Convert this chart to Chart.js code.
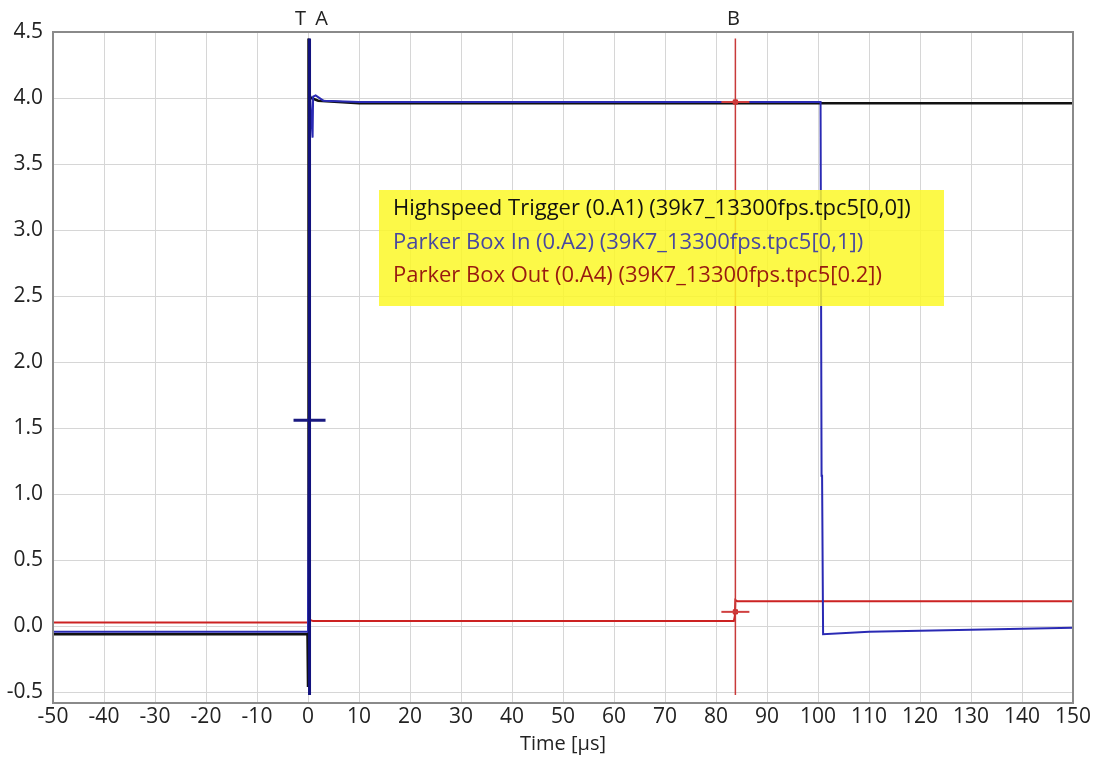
<!DOCTYPE html>
<html>
<head>
<meta charset="utf-8">
<script src="https://cdn.jsdelivr.net/npm/chart.js@4.4.1/dist/chart.umd.min.js"></script>
<style>
  html, body { margin: 0; padding: 0; background: #fff; }
  #wrap { width: 1099px; height: 757px; }
</style>
</head>
<body>
<div id="wrap"><canvas id="scope"></canvas></div>
<script>
// values (time in µs, volts)
const triggerX = [-50, -0.1, 0, 0.05, 0.15, 0.3, 0.6, 2, 10, 50, 100, 120, 150];
const triggerY = [-0.06, -0.06, -0.45, 4.45, 3.85, 4.02, 4.0, 3.98, 3.96, 3.96, 3.96, 3.96, 3.96];

const boxInX = [-50, 0, 0.3, 0.4, 0.5, 0.9, 1.0, 1.5, 3, 10, 50, 100.5, 100.7, 100.8, 101, 110, 150];
const boxInY = [-0.04, -0.04, 2.45, 4.02, 4.02, 3.7, 4.01, 4.02, 3.98, 3.97, 3.97, 3.97, 1.14, 1.14, -0.06, -0.04, -0.01];

const boxOutX = [-50, 0, 0.3, 1, 83.5, 83.7, 83.8, 84.2, 150];
const boxOutY = [0.03, 0.03, 0.05, 0.04, 0.04, 0.08, 0.2, 0.19, 0.19];

const cursorA = 0.3;
const cursorB = 83.8;
const cursorTop = 4.45;
const cursorBottom = -0.52;
const markerA = [1.56];
const markerB = [3.97, 0.11];

const xTicks = [-50, -40, -30, -20, -10, 0, 10, 20, 30, 40, 50, 60, 70, 80, 90, 100, 110, 120, 130, 140, 150];
const yTicks = [-0.5, 0.0, 0.5, 1.0, 1.5, 2.0, 2.5, 3.0, 3.5, 4.0, 4.5];

const legendLines = [
  { text: 'Highspeed Trigger (0.A1) (39k7_13300fps.tpc5[0,0])', color: '#111111' },
  { text: 'Parker Box In (0.A2) (39K7_13300fps.tpc5[0,1])', color: '#4848a0' },
  { text: 'Parker Box Out (0.A4) (39K7_13300fps.tpc5[0.2])', color: '#981a10' }
];

const FONT = "'Open Sans', sans-serif";

function pts(xs, ys) {
  return xs.map((x, i) => ({ x: x, y: ys[i] }));
}

const scopeBits = {
  id: 'scopeBits',
  afterDatasetsDraw(chart) {
    const ctx = chart.ctx;
    const area = chart.chartArea;
    const xs = chart.scales.x;
    ctx.save();
    // yellow legend box
    ctx.fillStyle = 'rgba(252, 248, 40, 0.85)';
    ctx.fillRect(area.left + 326, area.top + 158, 565, 116);
    ctx.font = '22px ' + FONT;
    ctx.textBaseline = 'middle';
    ctx.textAlign = 'left';
    legendLines.forEach((l, i) => {
      ctx.fillStyle = l.color;
      ctx.fillText(l.text, area.left + 340, area.top + 177 + i * 33.5);
    });
    // cursor letters above the frame
    ctx.font = '20px ' + FONT;
    ctx.fillStyle = '#222';
    ctx.textAlign = 'center';
    ctx.textBaseline = 'alphabetic';
    ctx.fillText('T', xs.getPixelForValue(cursorA) - 9, area.top - 7);
    ctx.fillText('A', xs.getPixelForValue(cursorA) + 12, area.top - 7);
    ctx.fillText('B', xs.getPixelForValue(cursorB) - 2, area.top - 7);
    ctx.restore();
  }
};

const ticksFont = { family: FONT, size: 21 };

new Chart(document.getElementById('scope'), {
  type: 'scatter',
  data: {
    datasets: [
      {
        label: 'cursor A',
        data: pts([cursorA, cursorA], [cursorBottom, cursorTop]),
        showLine: true, borderColor: '#12127e', borderWidth: 3, pointRadius: 0, order: 0
      },
      {
        label: 'cursor A marker',
        data: pts([cursorA], markerA),
        pointStyle: 'line', pointRadius: 16, pointBorderWidth: 3,
        borderColor: '#1a1a80', backgroundColor: '#1a1a80', order: 0
      },
      {
        label: 'cursor B',
        data: pts([cursorB, cursorB], [cursorBottom, cursorTop]),
        showLine: true, borderColor: '#c83a3a', borderWidth: 1.5, pointRadius: 0, order: 1
      },
      {
        label: 'cursor B marker',
        data: pts([cursorB, cursorB], markerB),
        pointStyle: 'line', pointRadius: 14, pointBorderWidth: 2,
        borderColor: '#d04040', backgroundColor: '#d04040', order: 1
      },
      {
        label: 'cursor B dot',
        data: pts([cursorB, cursorB], markerB),
        pointStyle: 'rect', pointRadius: 3,
        borderColor: '#cc2a2a', backgroundColor: '#cc2a2a', order: 1
      },
      {
        label: 'Parker Box In',
        data: pts(boxInX, boxInY),
        showLine: true, borderColor: '#2a2ab4', borderWidth: 2, pointRadius: 0, order: 2
      },
      {
        label: 'Parker Box Out',
        data: pts(boxOutX, boxOutY),
        showLine: true, borderColor: '#cc2222', borderWidth: 2, pointRadius: 0, order: 3
      },
      {
        label: 'Highspeed Trigger',
        data: pts(triggerX, triggerY),
        showLine: true, borderColor: '#111111', borderWidth: 2.5, pointRadius: 0, order: 4
      }
    ]
  },
  options: {
    responsive: true,
    maintainAspectRatio: false,
    animation: false,
    layout: { padding: { top: 32, right: 26, left: 0, bottom: 0 } },
    plugins: {
      legend: { display: false },
      tooltip: { enabled: false }
    },
    scales: {
      x: {
        type: 'linear',
        min: -50, max: 150,
        afterBuildTicks: (s) => { s.ticks = xTicks.map(v => ({ value: v })); },
        afterFit: (s) => { s.height = 54; },
        ticks: { font: ticksFont, color: '#222', maxRotation: 0, autoSkip: false, padding: 1 },
        grid: { color: '#d6d6d6', lineWidth: 1, drawTicks: false },
        border: { color: '#8a8a8a', width: 2 },
        title: { display: true, text: 'Time [µs]', font: { family: FONT, size: 20 }, color: '#222', padding: { top: 0, bottom: 1 } }
      },
      y: {
        type: 'linear',
        min: -0.58, max: 4.5,
        afterBuildTicks: (s) => { s.ticks = yTicks.map(v => ({ value: v })); },
        afterFit: (s) => { s.width = 53; },
        ticks: { font: ticksFont, color: '#222', padding: 10, callback: (v) => Number(v).toFixed(1) },
        grid: { color: '#d6d6d6', lineWidth: 1, drawTicks: false },
        border: { color: '#8a8a8a', width: 2 }
      }
    }
  },
  plugins: [
    scopeBits,
    {
      id: 'frame',
      afterDraw(chart) {
        const a = chart.chartArea;
        const ctx = chart.ctx;
        ctx.save();
        ctx.strokeStyle = '#8a8a8a';
        ctx.lineWidth = 2;
        ctx.strokeRect(a.left, a.top, a.right - a.left, a.bottom - a.top);
        ctx.restore();
      }
    }
  ]
});
</script>
</body>
</html>
